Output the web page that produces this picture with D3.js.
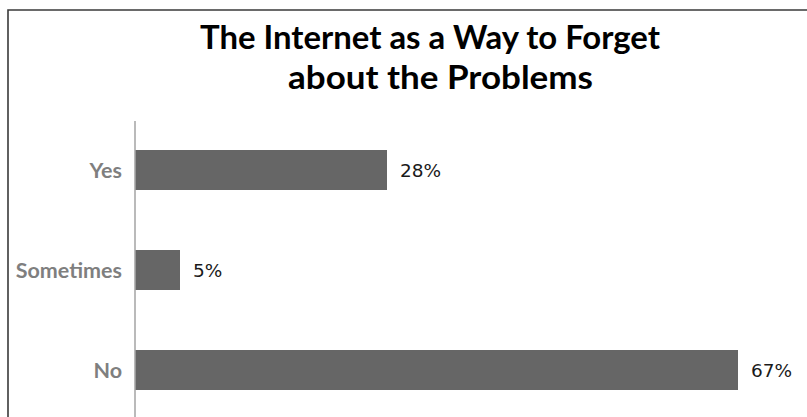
<!DOCTYPE html>
<html>
<head>
<meta charset="utf-8">
<script src="https://cdn.jsdelivr.net/npm/d3@7"></script>
<style>
  html, body { margin: 0; padding: 0; background: #fff; }
  svg { display: block; }
</style>
</head>
<body>
<svg id="chart" width="807" height="417"></svg>
<script>
// Survey answers and their shares (%)
const categories = ["Yes", "Sometimes", "No"];
const values = [28, 5, 67];
const valueLabels = ["28%", "5%", "67%"];
const titleLines = ["The Internet as a Way to Forget", "about the Problems"];

const svg = d3.select("#chart");
const W = 807, H = 417;

// Frame: top and left edges of the chart box
svg.append("path")
  .attr("d", `M8,${H} V10 H${W}`)
  .attr("fill", "none")
  .attr("stroke", "#3a3a3a")
  .attr("stroke-width", 1.6);

// Title, two centred lines, fitted to their widths
const titleGeom = [
  { cx: 430, y: 48.5, w: 460 },
  { cx: 440.5, y: 88.5, w: 305 }
];
svg.append("g").selectAll("text")
  .data(titleLines)
  .join("text")
  .attr("x", (d, i) => titleGeom[i].cx)
  .attr("y", (d, i) => titleGeom[i].y)
  .attr("text-anchor", "middle")
  .attr("font-family", "Lato, 'Open Sans', sans-serif")
  .attr("font-weight", 700)
  .attr("font-size", 33)
  .attr("fill", "#000")
  .attr("textLength", (d, i) => titleGeom[i].w)
  .attr("lengthAdjust", "spacingAndGlyphs")
  .text(d => d);

// Scales
const x0 = 135;
const x = d3.scaleLinear().domain([0, 70]).range([x0, x0 + 630]);
const y = d3.scaleBand().domain(categories).range([120, 420])
  .paddingInner(0.6).paddingOuter(0.3);

// Category axis line
svg.append("line")
  .attr("x1", x0).attr("x2", x0)
  .attr("y1", 121).attr("y2", H)
  .attr("stroke", "#8c8c8c")
  .attr("stroke-width", 1.2);

// Bars
svg.append("g").selectAll("rect")
  .data(categories)
  .join("rect")
  .attr("x", x(0) + 0.6)
  .attr("y", d => y(d))
  .attr("width", (d, i) => x(values[i]) - x(0) - 0.6)
  .attr("height", y.bandwidth())
  .attr("fill", "#666666");

// Category labels
svg.append("g").selectAll("text")
  .data(categories)
  .join("text")
  .attr("x", 122)
  .attr("y", d => y(d) + y.bandwidth() / 2)
  .attr("dy", "0.35em")
  .attr("text-anchor", "end")
  .attr("font-family", "Lato, 'Open Sans', sans-serif")
  .attr("font-weight", 700)
  .attr("font-size", 21.5)
  .attr("fill", "#7f7f7f")
  .text(d => d);

// Value labels
svg.append("g").selectAll("text")
  .data(categories)
  .join("text")
  .attr("x", (d, i) => x(values[i]) + 13)
  .attr("y", d => y(d) + y.bandwidth() / 2)
  .attr("dy", "0.36em")
  .attr("font-family", "'DejaVu Sans', sans-serif")
  .attr("font-size", 18.5)
  .attr("fill", "#1a1a1a")
  .text((d, i) => valueLabels[i]);
</script>
</body>
</html>
